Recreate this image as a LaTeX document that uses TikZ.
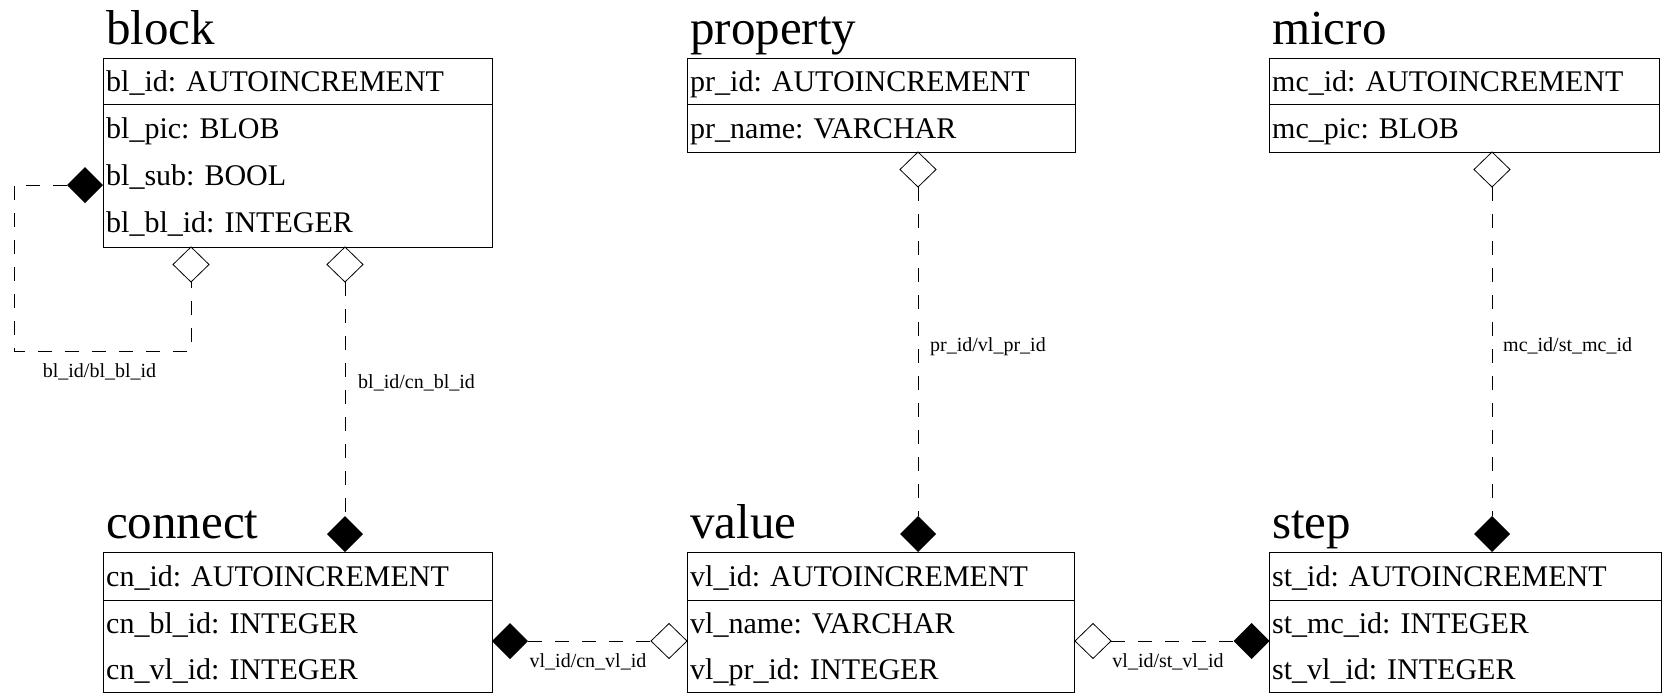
\documentclass[tikz,border=0pt]{standalone}
\usepackage{fontspec}
\setmainfont{Liberation Serif}
\usetikzlibrary{shapes.geometric}
\begin{document}
\begin{tikzpicture}[x=1pt,y=1pt,
  tablebox/.style={draw, line width=1pt, anchor=north west, inner sep=0pt, outer sep=0pt},
  sepline/.style={line width=1pt},
  ttl/.style={anchor=base west, inner sep=0pt, font=\fontsize{49}{49}\selectfont},
  field/.style={anchor=base west, inner sep=0pt, font=\fontsize{30}{30}\selectfont},
  rel/.style={anchor=base, inner sep=0pt, font=\fontsize{20}{20}\selectfont},
  relw/.style={anchor=base west, inner sep=0pt, font=\fontsize{20}{20}\selectfont},
  odiam/.style={diamond, draw, fill=white, line width=0.8pt, minimum width=36pt, minimum height=35pt, inner sep=0pt, outer sep=0pt},
  fdiam/.style={diamond, fill=black, minimum width=36pt, minimum height=36pt, inner sep=0pt, outer sep=0pt},
  fkline/.style={line width=1pt, dash pattern=on 14pt off 13pt}
]
\useasboundingbox (0,0) rectangle (1665,-693);

% ---------- block ----------
\node[ttl] (blockT) at (106,-45) {block};
\node[tablebox, minimum width=389pt, minimum height=188pt] (block) at (103,-59) {};
\draw[sepline] ([yshift=-45pt]block.north west) -- ([yshift=-45pt]block.north east);
\node[field] (bl1) at (106,-92) {bl\_id: AUTOINCREMENT};
\node[field] (bl2) at (106,-138) {bl\_pic: BLOB};
\node[field] (bl3) at (106,-185) {bl\_sub: BOOL};
\node[field] (bl4) at (106,-232) {bl\_bl\_id: INTEGER};

% ---------- property ----------
\node[ttl] (propT) at (690,-45) {property};
\node[tablebox, minimum width=388pt, minimum height=93pt] (prop) at (687,-59) {};
\draw[sepline] ([yshift=-45pt]prop.north west) -- ([yshift=-45pt]prop.north east);
\node[field] (pr1) at (690,-92) {pr\_id: AUTOINCREMENT};
\node[field] (pr2) at (690,-138) {pr\_name: VARCHAR};

% ---------- micro ----------
\node[ttl] (microT) at (1272,-45) {micro};
\node[tablebox, minimum width=390pt, minimum height=93pt] (micro) at (1269,-59) {};
\draw[sepline] ([yshift=-45pt]micro.north west) -- ([yshift=-45pt]micro.north east);
\node[field] (mc1) at (1272,-92) {mc\_id: AUTOINCREMENT};
\node[field] (mc2) at (1272,-138) {mc\_pic: BLOB};

% ---------- connect ----------
\node[ttl] (connT) at (106,-538) {connect};
\node[tablebox, minimum width=389pt, minimum height=140.5pt] (conn) at (103,-552) {};
\draw[sepline] ([yshift=-48pt]conn.north west) -- ([yshift=-48pt]conn.north east);
\node[field] (cn1) at (106,-586) {cn\_id: AUTOINCREMENT};
\node[field] (cn2) at (106,-633) {cn\_bl\_id: INTEGER};
\node[field] (cn3) at (106,-679) {cn\_vl\_id: INTEGER};

% ---------- value ----------
\node[ttl] (valT) at (690,-538) {value};
\node[tablebox, minimum width=387pt, minimum height=140.5pt] (val) at (687,-552) {};
\draw[sepline] ([yshift=-48pt]val.north west) -- ([yshift=-48pt]val.north east);
\node[field] (vl1) at (690,-586) {vl\_id: AUTOINCREMENT};
\node[field] (vl2) at (690,-633) {vl\_name: VARCHAR};
\node[field] (vl3) at (690,-679) {vl\_pr\_id: INTEGER};

% ---------- step ----------
\node[ttl] (stepT) at (1272,-538) {step};
\node[tablebox, minimum width=392pt, minimum height=140.5pt] (stp) at (1269,-552) {};
\draw[sepline] ([yshift=-48pt]stp.north west) -- ([yshift=-48pt]stp.north east);
\node[field] (st1) at (1272,-586) {st\_id: AUTOINCREMENT};
\node[field] (st2) at (1272,-633) {st\_mc\_id: INTEGER};
\node[field] (st3) at (1272,-679) {st\_vl\_id: INTEGER};

% ---------- relationship ends ----------
\node[fdiam] (blSelf) at (85,-185) {};
\node[odiam] (blDown1) at (191,-264.5) {};
\node[odiam] (blDown2) at (345,-264.5) {};
\node[fdiam] (cnTop) at (345,-534) {};

\node[odiam] (prDown) at (918,-169.5) {};
\node[fdiam] (vlTop) at (918,-534) {};

\node[odiam] (mcDown) at (1492,-169.5) {};
\node[fdiam] (stTop) at (1492,-534) {};

\node[fdiam] (cnRight) at (510,-641) {};
\node[odiam] (vlLeft) at (669,-641) {};

\node[odiam] (vlRight) at (1093,-641) {};
\node[fdiam] (stLeft) at (1251.5,-641) {};

% ---------- connectors ----------
\coordinate (loopA) at (14,-185);
\coordinate (loopB) at (14,-351);
\coordinate (loopC) at (191,-351);
\draw[fkline] (blSelf.west) -- (loopA) -- (loopB) -- (loopC) -- (blDown1.south);
\draw[fkline] (blDown2.south) -- (cnTop.north);
\draw[fkline] (prDown.south) -- (vlTop.north);
\draw[fkline] (mcDown.south) -- (stTop.north);
\draw[fkline] (cnRight.east) -- (vlLeft.west);
\draw[fkline] (vlRight.east) -- (stLeft.west);

% ---------- labels ----------
\node[rel] (lab1) at (99.5,-377) {bl\_id/bl\_bl\_id};
\node[relw] (lab2) at (358,-388) {bl\_id/cn\_bl\_id};
\node[relw] (lab3) at (930,-351) {pr\_id/vl\_pr\_id};
\node[relw] (lab4) at (1503,-351) {mc\_id/st\_mc\_id};
\node[rel] (lab5) at (588,-667) {vl\_id/cn\_vl\_id};
\node[rel] (lab6) at (1168,-667) {vl\_id/st\_vl\_id};
\end{tikzpicture}
\end{document}
